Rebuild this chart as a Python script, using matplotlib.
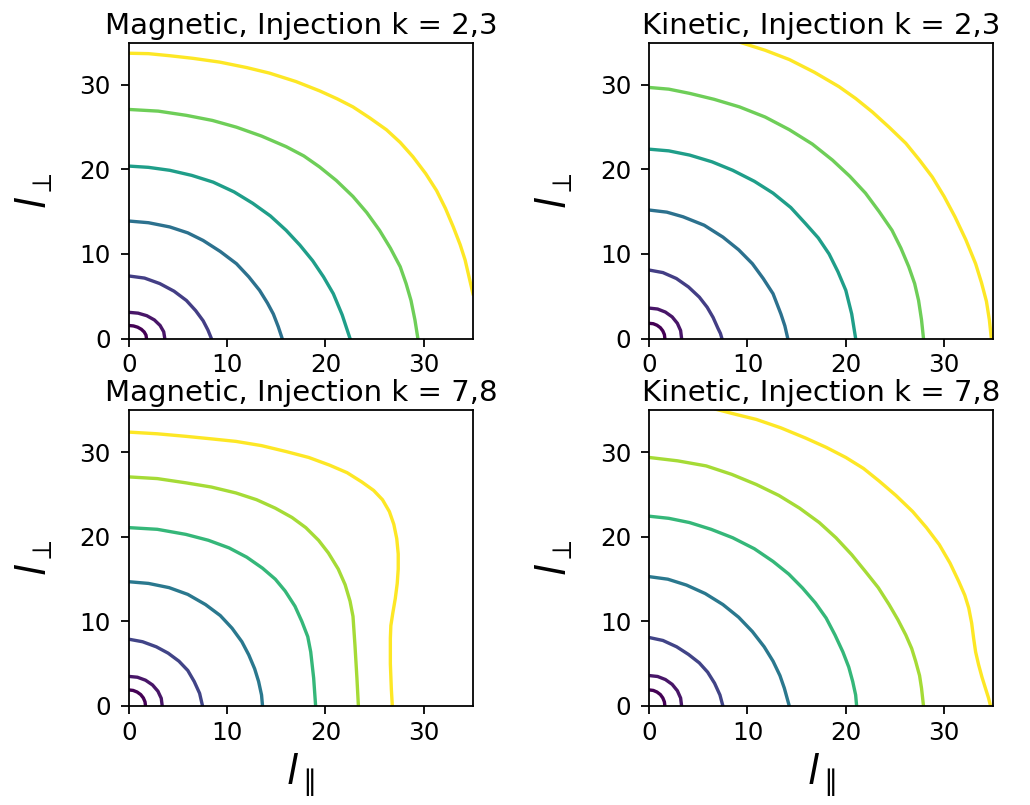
import matplotlib
matplotlib.use("Agg")
import matplotlib.pyplot as plt

# Contour lines of the transfer maps, one list per level (innermost first).
# x is l_parallel, y is l_perp.
titles = ["Magnetic, Injection k = 2,3", "Kinetic, Injection k = 2,3",
          "Magnetic, Injection k = 7,8", "Kinetic, Injection k = 7,8"]

mag23_x = [
    [0, 0.47, 0.9, 1.28, 1.57, 1.75, 1.8],
    [0, 0.95, 1.83, 2.6, 3.18, 3.55, 3.66],
    [0, 1.6, 3.15, 4.6, 5.86, 6.8, 7.56, 8.05, 8.4],
    [0, 2.0, 4.17, 6.0, 7.56, 9.3, 10.95, 12.2, 13.3, 14.1, 14.7, 15.2, 15.6],
    [0, 2.0, 4.17, 6.4, 8.58, 10.7, 12.6, 14.4, 16.0, 17.4, 18.7, 19.8, 20.8, 21.7, 22.5],
    [0, 3.0, 5.86, 8.5, 10.95, 13.5, 16.0, 17.8, 19.4, 21.1, 22.8, 24.2, 25.5, 26.6,
     27.6, 28.2, 28.7, 29.1, 29.4],
    [0, 2.0, 4.2, 6.5, 9.25, 12.0, 14.3, 17.0, 19.4, 21.2, 22.8, 24.5, 26.2, 27.6,
     28.9, 30.2, 31.3, 32.2, 33.0, 33.7, 34.2, 34.6, 35.0],
]
mag23_y = [
    [1.54, 1.49, 1.34, 1.09, 0.77, 0.4, 0],
    [3.1, 3.0, 2.7, 2.2, 1.55, 0.8, 0],
    [7.4, 7.15, 6.5, 5.6, 4.5, 3.3, 2.1, 1.0, 0],
    [13.9, 13.7, 13.2, 12.5, 11.6, 10.3, 8.85, 7.3, 5.7, 4.2, 2.9, 1.4, 0],
    [20.4, 20.25, 19.9, 19.3, 18.5, 17.35, 16.0, 14.5, 12.8, 11.05, 9.2, 7.3, 5.3, 2.8, 0],
    [27.1, 26.9, 26.4, 25.8, 25.0, 23.95, 22.7, 21.6, 20.3, 18.7, 16.8, 14.9, 12.8, 10.7,
     8.5, 6.5, 4.5, 2.2, 0],
    [33.75, 33.7, 33.45, 33.15, 32.7, 32.05, 31.4, 30.4, 29.3, 28.35, 27.4, 26.1, 24.7, 23.2,
     21.5, 19.5, 17.5, 15.4, 13.2, 11.1, 9.3, 7.3, 5.3],
]

kin23_x = [
    [0, 0.42, 0.8, 1.14, 1.39, 1.55, 1.6],
    [0, 0.86, 1.65, 2.34, 2.87, 3.2, 3.3],
    [0, 1.4, 2.77, 4.0, 5.1, 5.9, 6.5, 7.0, 7.25, 7.4],
    [0, 1.8, 3.45, 5.6, 7.5, 9.1, 10.5, 11.6, 12.6, 13.4, 13.8, 14.1],
    [0, 2.0, 4.12, 6.4, 8.5, 10.7, 12.6, 14.4, 15.9, 17.2, 18.3, 19.2, 20.0, 20.6, 21.0],
    [0, 2.0, 4.12, 6.6, 9.19, 11.8, 14.26, 16.6, 18.65, 20.4, 22.0, 23.4, 24.7, 25.6,
     26.4, 27.0, 27.4, 27.7, 27.9],
    [9.36, 11.8, 14.26, 16.8, 19.3, 21.0, 22.7, 24.4, 26.1, 27.5, 28.8, 30.0, 31.1, 32.2,
     33.2, 33.8, 34.3, 34.6, 34.8],
]
kin23_y = [
    [1.8, 1.75, 1.57, 1.28, 0.9, 0.47, 0],
    [3.6, 3.49, 3.13, 2.56, 1.8, 0.94, 0],
    [8.1, 7.8, 7.1, 6.1, 4.9, 3.7, 2.5, 1.2, 0.6, 0],
    [15.2, 14.95, 14.4, 13.4, 12.0, 10.5, 8.85, 7.1, 5.3, 2.9, 1.5, 0],
    [22.4, 22.2, 21.7, 20.9, 19.9, 18.6, 17.2, 15.5, 13.6, 11.9, 10.0, 7.9, 5.7, 2.9, 0],
    [29.7, 29.5, 29.0, 28.3, 27.4, 26.2, 24.7, 23.0, 21.1, 19.2, 17.2, 15.0, 12.8, 10.7,
     8.5, 6.5, 4.5, 2.2, 0],
    [35.0, 34.1, 33.0, 31.5, 29.8, 28.4, 26.8, 25.0, 23.1, 21.1, 19.1, 16.8, 14.4, 11.7,
     8.85, 6.6, 4.4, 2.2, 0],
]

mag78_x = [
    [0, 0.44, 0.85, 1.21, 1.48, 1.65, 1.7],
    [0, 0.88, 1.7, 2.41, 2.96, 3.3, 3.4],
    [0, 1.4, 2.8, 4.0, 5.1, 6.0, 6.65, 7.2, 7.5],
    [0, 2.0, 4.1, 6.0, 7.8, 9.3, 10.5, 11.5, 12.2, 12.8, 13.2, 13.5, 13.6],
    [0, 2.9, 5.8, 8.1, 10.2, 12.0, 13.6, 14.9, 15.9, 16.9, 17.6, 18.2, 18.5, 18.8, 19.0],
    [0, 2.9, 5.8, 8.4, 10.9, 13.0, 14.9, 16.6, 18.0, 19.3, 20.3, 21.3, 22.0, 22.5, 22.8,
     23.0, 23.2, 23.35],
    [0, 2.9, 5.8, 8.4, 10.9, 13.5, 16.0, 18.3, 20.4, 22.2, 23.7, 24.9, 25.8, 26.5, 26.95,
     27.25, 27.4, 27.4, 27.3, 27.1, 26.85, 26.65, 26.6, 26.6, 26.7, 26.8],
]
mag78_y = [
    [1.9, 1.84, 1.65, 1.35, 0.95, 0.49, 0],
    [3.5, 3.4, 3.05, 2.49, 1.75, 0.91, 0],
    [7.9, 7.6, 7.0, 6.25, 5.3, 4.2, 2.9, 1.5, 0],
    [14.7, 14.5, 14.0, 13.2, 12.0, 10.7, 9.2, 7.6, 6.05, 4.4, 2.9, 1.3, 0],
    [21.1, 20.9, 20.3, 19.6, 18.7, 17.6, 16.3, 15.0, 13.6, 11.8, 10.0, 8.2, 6.4, 3.3, 0],
    [27.1, 26.9, 26.4, 25.9, 25.2, 24.4, 23.4, 22.3, 21.1, 19.6, 18.1, 16.2, 14.35, 12.4,
     10.6, 7.2, 3.3, 0],
    [32.4, 32.2, 31.9, 31.6, 31.3, 30.8, 30.1, 29.4, 28.5, 27.6, 26.5, 25.5, 24.4, 23.0,
     21.5, 19.8, 18.0, 16.2, 14.5, 12.7, 11.0, 9.5, 8.0, 5.0, 2.0, 0],
]

kin78_x = [
    [0, 0.42, 0.8, 1.14, 1.39, 1.55, 1.6],
    [0, 0.86, 1.65, 2.34, 2.87, 3.2, 3.3],
    [0, 1.4, 2.8, 4.0, 5.1, 5.95, 6.65, 7.2, 7.5],
    [0, 1.9, 3.8, 5.7, 7.5, 9.1, 10.5, 11.7, 12.6, 13.3, 13.75, 14.25],
    [0, 2.0, 4.1, 6.3, 8.5, 10.7, 12.6, 14.2, 15.6, 16.9, 18.0, 18.9, 19.7, 20.3, 20.7,
     21.0, 21.1],
    [0, 2.9, 5.8, 8.4, 10.9, 13.2, 15.3, 17.3, 19.0, 20.6, 22.0, 23.3, 24.4, 25.3, 26.1,
     26.7, 27.1, 27.5, 27.7, 27.9],
    [6.8, 8.8, 10.9, 13.4, 15.9, 18.0, 20.0, 21.8, 23.4, 25.1, 26.8, 28.2, 29.5, 30.6,
     31.5, 32.1, 32.5, 32.8, 33.0, 33.2, 33.5, 33.85, 34.2, 34.5, 34.7],
]
kin78_y = [
    [1.9, 1.84, 1.65, 1.35, 0.95, 0.49, 0],
    [3.6, 3.49, 3.13, 2.56, 1.8, 0.94, 0],
    [8.1, 7.75, 7.0, 6.1, 5.1, 4.0, 2.7, 1.3, 0],
    [15.3, 15.0, 14.3, 13.3, 12.0, 10.5, 8.8, 7.0, 5.3, 3.6, 2.1, 0],
    [22.45, 22.2, 21.7, 20.9, 19.9, 18.6, 17.1, 15.6, 13.95, 12.2, 10.4, 8.4, 6.4, 4.6, 2.9,
     1.3, 0],
    [29.4, 29.0, 28.4, 27.4, 26.2, 24.9, 23.4, 21.7, 19.9, 17.9, 15.9, 14.0, 12.0, 10.2,
     8.4, 6.8, 5.3, 3.6, 2.1, 0],
    [35.1, 34.5, 33.9, 32.9, 31.7, 30.6, 29.4, 28.1, 26.6, 24.9, 23.0, 21.1, 19.1, 16.9,
     14.7, 13.1, 11.6, 9.8, 8.0, 6.4, 4.9, 3.4, 2.1, 1.0, 0.1],
]

# viridis shades for the levels of each injection case
colors_23 = ["#440154", "#481668", "#433e85", "#2c718e", "#1f9e89", "#6ece58", "#fde725"]
colors_78 = ["#440154", "#481668", "#414487", "#2a788e", "#35b779", "#a5db36", "#fde725"]

panels = [
    (mag23_x, mag23_y, colors_23),
    (kin23_x, kin23_y, colors_23),
    (mag78_x, mag78_y, colors_78),
    (kin78_x, kin78_y, colors_78),
]

fig, axes = plt.subplots(2, 2, figsize=(6.4, 5.0), dpi=161)
fig.subplots_adjust(left=0.125, right=0.964, bottom=0.123, top=0.947,
                    wspace=0.512, hspace=0.242)

for i, ax in enumerate(axes.flat):
    xs, ys, cols = panels[i]
    for x, y, c in zip(xs, ys, cols):
        ax.plot(x, y, color=c, linewidth=1.5, solid_joinstyle="round")
    ax.set_xlim(0, 35)
    ax.set_ylim(0, 35)
    ax.set_xticks([0, 10, 20, 30])
    ax.set_yticks([0, 10, 20, 30])
    ax.tick_params(labelsize=11)
    ax.tick_params(axis="y", pad=4.5)
    ax.tick_params(axis="x", pad=3)
    ax.set_title(titles[i], fontsize=13, pad=4)
    ax.set_ylabel(r"$l_\perp$", fontsize=18, labelpad=11)
    if i >= 2:
        ax.set_xlabel(r"$l_\parallel$", fontsize=18, labelpad=3)

fig.savefig("out.png", dpi=161)
